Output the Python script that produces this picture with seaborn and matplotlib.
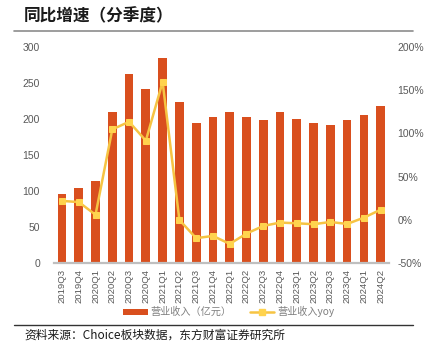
import numpy as np
import pandas as pd
import matplotlib
matplotlib.use("Agg")
import matplotlib.pyplot as plt
from matplotlib.lines import Line2D
from matplotlib.patches import Patch
import seaborn as sns

# Quarterly revenue (100 million CNY) and year-over-year growth (%)
quarters = ["2019Q3", "2019Q4", "2020Q1", "2020Q2", "2020Q3", "2020Q4", "2021Q1",
            "2021Q2", "2021Q3", "2021Q4", "2022Q1", "2022Q2", "2022Q3", "2022Q4",
            "2023Q1", "2023Q2", "2023Q3", "2023Q4", "2024Q1", "2024Q2"]
revenue = [96, 105, 114, 209, 262, 242, 284, 224, 194, 202, 209, 203, 198,
           209, 200, 195, 192, 198, 206, 218]
yoy = [22, 20.7, 6, 104.6, 113.4, 91.6, 159.4, 0, -21, -18.4, -27.6, -15.7,
       -6.9, -3, -3.8, -4.9, -2.3, -4.6, 2.7, 11.9]

title_text = "同比增速（分季度）"
source_text = "资料来源：Choice板块数据，东方财富证券研究所"
bar_label = "营业收入（亿元）"
line_label = "营业收入yoy"

bar_color = "#D94F1E"
line_color = "#F6C443"
marker_color = "#FFD34E"
tick_color = "#595959"
axis_gray = "#BFBFBF"

sns.set_theme(style="white")
plt.rcParams["font.family"] = ["Liberation Sans", "Noto Sans CJK SC", "DejaVu Sans"]

df = pd.DataFrame({"quarter": quarters, "revenue": revenue, "yoy": yoy,
                   "pos": np.arange(len(quarters))})

fig = plt.figure(figsize=(4.28, 3.49), dpi=100)
ax = fig.add_axes([0.126, 0.2456, 0.783, 0.6204])

sns.barplot(data=df, x="quarter", y="revenue", color=bar_color, width=0.52,
            saturation=1, ax=ax, edgecolor="none")
ax.set_xlim(-0.48, len(quarters) - 0.5)
ax.set_ylim(0, 300)
ax.set_yticks(np.arange(0, 301, 50))
ax.set_xlabel("")
ax.set_ylabel("")

ax2 = ax.twinx()
sns.lineplot(data=df, x="pos", y="yoy", color=line_color, lw=1.8,
             marker="s", markersize=5, markerfacecolor=marker_color,
             markeredgecolor=marker_color, ax=ax2)
ax2.set_ylim(-50, 200)
ax2.set_yticks(np.arange(-50, 201, 50))
ax2.set_yticklabels([f"{v}%" for v in range(-50, 201, 50)])
ax2.set_xlabel("")
ax2.set_ylabel("")
ax2.set_xlim(-0.48, len(quarters) - 0.5)

for a in (ax, ax2):
    for s in ("top", "left", "right"):
        a.spines[s].set_visible(False)
    a.spines["bottom"].set_color(axis_gray)
    a.spines["bottom"].set_linewidth(1.6)
    a.tick_params(axis="both", length=0, colors=tick_color, labelsize=7.5, pad=3)
ax2.spines["bottom"].set_visible(False)

ax.tick_params(axis="x", rotation=90, labelsize=6.8, pad=4)
ax.tick_params(axis="y", pad=10)
ax2.tick_params(axis="y", pad=6)

# legend under the x labels
handles = [Patch(facecolor=bar_color, edgecolor="none"),
           Line2D([0], [0], color=line_color, lw=1.8, marker="s", markersize=5,
                  markerfacecolor=marker_color, markeredgecolor=marker_color)]
leg = fig.legend(handles, [bar_label, line_label], loc="center",
                 bbox_to_anchor=(0.535, 0.107), ncol=2, frameon=False,
                 handlelength=2.4, handleheight=0.55, columnspacing=1.8,
                 handletextpad=0.3,
                 prop={"family": ["Noto Sans CJK SC", "DejaVu Sans"], "size": 7.3})
for t in leg.get_texts():
    t.set_color("#7f7f7f")

# title with rule, and the source line at the bottom
fig.text(24 / 428, 1 - 16 / 349, title_text, fontsize=12, fontweight="bold",
         family=["Noto Sans CJK SC", "DejaVu Sans"], va="center", ha="left",
         color="#1a1a1a")
fig.add_artist(Line2D([14 / 428, 413 / 428], [1 - 30.5 / 349, 1 - 30.5 / 349],
                      color="#8c8c8c", lw=1.2))
fig.add_artist(Line2D([14 / 428, 413 / 428], [1 - 325 / 349, 1 - 325 / 349],
                      color="#333333", lw=1.0))
fig.text(24 / 428, 1 - 335 / 349, source_text, fontsize=8.5,
         family=["Noto Sans CJK SC", "DejaVu Sans"], va="center", ha="left",
         color="#1a1a1a")

fig.savefig("out.png", dpi=100)
